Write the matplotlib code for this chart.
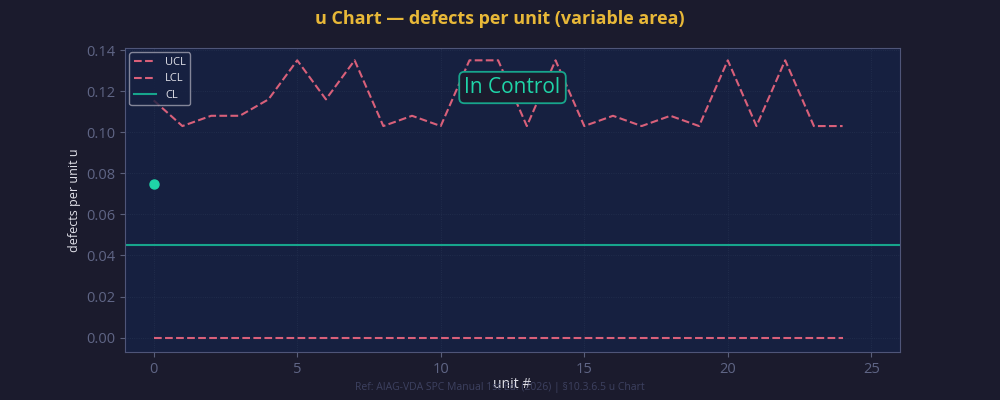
import matplotlib
matplotlib.use("Agg")
import matplotlib.pyplot as plt

plt.rcParams['font.family'] = ['Open Sans', 'DejaVu Sans']

units = list(range(25))
ucl = [0.1155, 0.103, 0.108, 0.108, 0.116, 0.135, 0.116, 0.135, 0.103, 0.108,
       0.103, 0.135, 0.135, 0.103, 0.135, 0.103, 0.108, 0.103, 0.108, 0.103,
       0.135, 0.103, 0.135, 0.103, 0.103]
lcl = [0.0] * 25
cl = 0.045
obs_x = [0]
obs_u = [0.075]

bg = '#1b1b2d'
fig, ax = plt.subplots(figsize=(10, 4), dpi=100)
fig.patch.set_facecolor(bg)
ax.set_facecolor('#162040')

ax.plot(units, ucl, '--', color='#d9607a', lw=1.5, label='UCL')
ax.plot(units, lcl, '--', color='#d9607a', lw=1.5, label='LCL')
ax.axhline(cl, color='#17a58c', lw=1.5, label='CL')
ax.plot(obs_x, obs_u, 'o', color='#1fd4a8', ms=6.5, zorder=5)

ax.set_xlim(-1, 26)
ax.set_ylim(-0.007, 0.141)
ax.set_yticks([0, 0.02, 0.04, 0.06, 0.08, 0.10, 0.12, 0.14])
ax.grid(True, color='#24304f', lw=0.6, ls=':')
ax.tick_params(colors='#5a5f7a', labelcolor='#5f6585', labelsize=10.5)
for s in ax.spines.values():
    s.set_color('#4f5578')
ax.set_xlabel('unit #', color='#e0e0e8', fontsize=10, labelpad=0)
ax.set_ylabel('defects per unit u', color='#e0e0e8', fontsize=9)

leg = ax.legend(loc='upper left', fontsize=8, facecolor='#162040',
                edgecolor='#a0a0b0', labelcolor='#e0e0e8', borderaxespad=0.4)

ax.text(0.5, 0.87, 'In Control', transform=ax.transAxes, ha='center', va='center',
        fontsize=15, color='#1fd4a8',
        bbox=dict(boxstyle='round,pad=0.25', fc='#1b1b2d', ec='#17a58c', lw=1.3))

fig.suptitle('u Chart — defects per unit (variable area)', color='#e8b838',
             fontsize=13, fontweight='bold', y=0.975)
fig.text(0.5, 0.025, 'Ref: AIAG-VDA SPC Manual 1st Ed. (2026) | §10.3.6.5 u Chart',
         ha='center', color='#3d4160', fontsize=7.5)

fig.subplots_adjust(left=0.125, right=0.9, top=0.88, bottom=0.12)
fig.savefig('out.png', facecolor=bg)
